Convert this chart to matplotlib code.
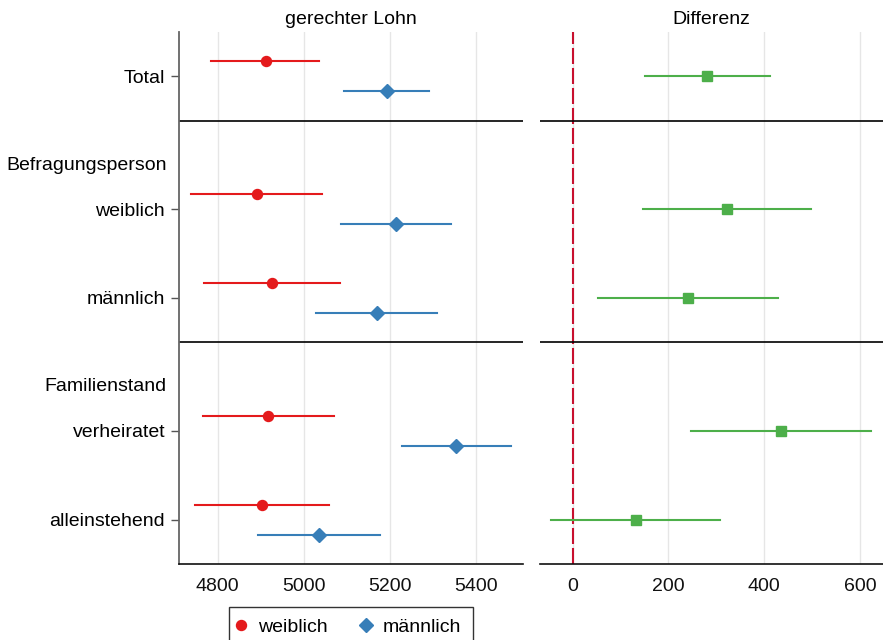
import matplotlib
matplotlib.use("Agg")
import matplotlib.pyplot as plt
from matplotlib.lines import Line2D

plt.rcParams['font.family'] = ['Liberation Sans', 'DejaVu Sans']

# ---- data ----
categories = ['Total', 'weiblich', 'männlich', 'verheiratet', 'alleinstehend']
group_of = [None, 'Befragungsperson', 'Befragungsperson', 'Familienstand', 'Familienstand']

lohn_w = [4912, 4891, 4927, 4918, 4902]
lohn_w_lo = [4784, 4738, 4768, 4765, 4748]
lohn_w_hi = [5036, 5043, 5085, 5071, 5058]

lohn_m = [5194, 5215, 5170, 5355, 5036]
lohn_m_lo = [5094, 5087, 5029, 5228, 4893]
lohn_m_hi = [5292, 5343, 5309, 5481, 5177]

diff = [280, 322, 241, 435, 133]
diff_lo = [151, 147, 53, 247, -44]
diff_hi = [412, 498, 429, 622, 307]

left_ticks = [4800, 5000, 5200, 5400]
right_ticks = [0, 200, 400, 600]
legend_labels = ['weiblich', 'männlich']
titles = ['gerechter Lohn', 'Differenz']

# ---- layout of rows (y units, top to bottom) ----
ypos, headers, separators = [], [], []
y = 0
prev_group = 'start'
for cat, grp in zip(categories, group_of):
    if grp != prev_group:
        if prev_group != 'start':
            y += 1
            separators.append(y)
        if grp is not None:
            y += 1
            headers.append((y, grp))
        y += 1
        prev_group = grp
    else:
        y += 2
    ypos.append(y)
ymax = y + 1

RED = '#E41A1C'
BLUE = '#377EB8'
GREEN = '#4DAF4A'
DASH = '#C8102E'
GRID = '#E6E6E6'
FS = 14

fig = plt.figure(figsize=(8.83, 6.4), dpi=100)
axL = fig.add_axes([179/883, 76/640, 344/883, 532/640])
axR = fig.add_axes([540/883, 76/640, 343/883, 532/640])

off = 0.34
lw = 1.5
for i, yy in enumerate(ypos):
    axL.plot([lohn_w_lo[i], lohn_w_hi[i]], [yy - off, yy - off], color=RED, lw=lw, zorder=3)
    axL.plot([lohn_w[i]], [yy - off], marker='o', ms=7.2, color=RED, zorder=4)
    axL.plot([lohn_m_lo[i], lohn_m_hi[i]], [yy + off, yy + off], color=BLUE, lw=lw, zorder=3)
    axL.plot([lohn_m[i]], [yy + off], marker='D', ms=6.8, color=BLUE, zorder=4)
    axR.plot([diff_lo[i], diff_hi[i]], [yy, yy], color=GREEN, lw=lw, zorder=3)
    axR.plot([diff[i]], [yy], marker='s', ms=7.8, color=GREEN, zorder=4)

axR.axvline(0, color=DASH, lw=1.5, dashes=(7.7, 1.9), zorder=2)

for ax, ticks, xlim, title in [(axL, left_ticks, (4710, 5510), titles[0]),
                               (axR, right_ticks, (-68, 648), titles[1])]:
    ax.set_xlim(*xlim)
    ax.set_ylim(ymax, 0)
    ax.set_xticks(ticks)
    ax.set_xticklabels([str(t) for t in ticks])
    ax.tick_params(axis='x', length=0, pad=10, labelsize=FS, colors='#111111')
    ax.grid(axis='x', color=GRID, lw=1, zorder=0)
    ax.set_axisbelow(True)
    for s in ['top', 'right']:
        ax.spines[s].set_visible(False)
    ax.spines['bottom'].set_color('#111111')
    ax.spines['bottom'].set_linewidth(1.2)
    for sy in separators:
        ax.axhline(sy, color='black', lw=1.2, zorder=2)
    ax.set_title(title, fontsize=FS, pad=6)

axL.spines['left'].set_color('#666666')
axL.spines['left'].set_linewidth(1.3)
axL.set_yticks(ypos)
axL.set_yticklabels(categories)
axL.tick_params(axis='y', length=6, width=1, color='#555555', pad=4, labelsize=FS)

axR.spines['left'].set_visible(False)
axR.set_yticks([])

for hy, text in headers:
    axL.text(-12/344, hy, text, transform=axL.get_yaxis_transform(),
             ha='right', va='center', fontsize=FS)

handles = [Line2D([], [], ls='none', marker='o', ms=7.2, color=RED),
           Line2D([], [], ls='none', marker='D', ms=6.8, color=BLUE)]
fig.legend(handles, legend_labels, loc='upper center', bbox_to_anchor=(351/883, 33/640),
           ncol=2, fontsize=FS, frameon=True, fancybox=False, edgecolor='#333333',
           framealpha=1, borderpad=0.6, borderaxespad=0, handletextpad=0.85,
           columnspacing=1.95, handlelength=0.05)

fig.savefig('out.png', dpi=100)
